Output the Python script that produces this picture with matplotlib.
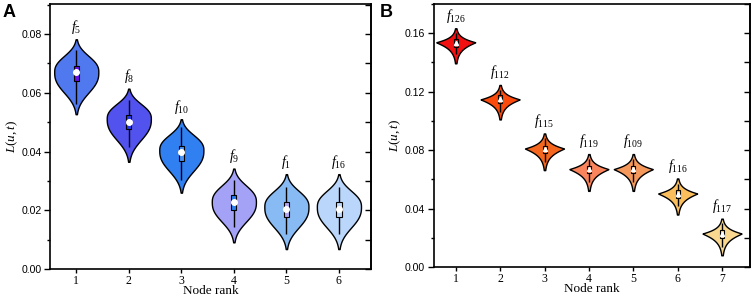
import matplotlib
matplotlib.use("Agg")
import matplotlib.pyplot as plt
import numpy as np
from matplotlib.ticker import MultipleLocator, FormatStrFormatter

plt.rcParams['mathtext.fontset'] = 'custom'
plt.rcParams['mathtext.rm'] = 'Liberation Serif'
plt.rcParams['mathtext.it'] = 'Liberation Serif:italic'

############ PANEL A DATA ############
a_rank = [1, 2, 3, 4, 5, 6]
a_names = ['5', '8', '10', '9', '1', '16']
a_top = [0.0782, 0.0614, 0.0510, 0.0342, 0.0323, 0.0323]
a_bottom = [0.0527, 0.0365, 0.0260, 0.0091, 0.0068, 0.0068]
a_mode = [0.0671, 0.0512, 0.0405, 0.0229, 0.0212, 0.0212]
a_q1 = [0.0640, 0.0475, 0.0368, 0.0200, 0.0178, 0.0178]
a_q3 = [0.0691, 0.0526, 0.0420, 0.0252, 0.0229, 0.0229]
a_med = [0.0671, 0.0499, 0.0397, 0.0229, 0.0203, 0.0203]
a_whislo = [0.0563, 0.0416, 0.0303, 0.0144, 0.0121, 0.0121]
a_whishi = [0.0745, 0.0577, 0.0484, 0.0303, 0.0280, 0.0280]
a_color = ['#5079F0', '#5252EE', '#3080F2', '#A4A2F6', '#88BBF4', '#BAD6FA']
a_boxcolor = ['#6A10E6', '#2838E6', '#4A90F2', '#2C7EEE', '#B2A8F4', '#C2DAFA']

############ PANEL B DATA ############
b_rank = [1, 2, 3, 4, 5, 6, 7]
b_names = ['126', '112', '115', '119', '109', '116', '117']
b_top = [0.1634, 0.1246, 0.0914, 0.0773, 0.0773, 0.0606, 0.0331]
b_bottom = [0.1394, 0.1010, 0.0663, 0.0521, 0.0521, 0.0359, 0.0080]
b_mode = [0.1538, 0.1147, 0.0811, 0.0670, 0.0670, 0.0503, 0.0229]
b_q1 = [0.1509, 0.1120, 0.0780, 0.0640, 0.0640, 0.0475, 0.0200]
b_q3 = [0.1560, 0.1177, 0.0830, 0.0692, 0.0692, 0.0525, 0.0250]
b_med = [0.1536, 0.1147, 0.0806, 0.0668, 0.0668, 0.0500, 0.0226]
b_whislo = [0.1460, 0.1060, 0.0720, 0.0580, 0.0580, 0.0420, 0.0140]
b_whishi = [0.1600, 0.1210, 0.0880, 0.0740, 0.0740, 0.0570, 0.0300]
b_color = ['#F21010', '#FA4A0C', '#F5661E', '#FA845C', '#F5985C', '#FABE5C', '#FAD890']


def violin(ax, x, top, bottom, mode, half, color, p, k):
    # half width profile around the widest point
    y = np.linspace(bottom, top, 300)
    d = np.where(y > mode, (y - mode) / (top - mode), (mode - y) / (mode - bottom))
    w = half * np.exp(-k * d ** p)
    ax.fill_betweenx(y, x - w, x + w, facecolor=color, edgecolor='black', lw=1.0, zorder=2)


def style(ax, ymax, ymaj, ymin, xmax, nx):
    ax.set_ylim(0, ymax)
    ax.set_xlim(0.5, xmax)
    ax.set_xticks(range(1, nx + 1))
    ax.yaxis.set_major_locator(MultipleLocator(ymaj))
    ax.yaxis.set_minor_locator(MultipleLocator(ymin))
    ax.yaxis.set_major_formatter(FormatStrFormatter('%.2f'))
    ax.tick_params(axis='y', which='major', direction='out', length=4, width=1, labelsize=7.6, pad=2)
    ax.tick_params(axis='y', which='minor', direction='out', length=2.5, width=1)
    ax.tick_params(axis='x', which='major', direction='out', length=3, width=1, pad=1)
    for lab in ax.get_yticklabels():
        lab.set_fontfamily('Liberation Sans')
    for lab in ax.get_xticklabels():
        lab.set_fontfamily('Liberation Serif')
        lab.set_fontsize(8.5)
    for s in ax.spines.values():
        s.set_linewidth(1.2)
    sec = ax.secondary_yaxis('right')
    sec.yaxis.set_major_locator(MultipleLocator(ymaj))
    sec.yaxis.set_minor_locator(MultipleLocator(ymin))
    sec.tick_params(which='major', direction='in', length=4, width=1, labelright=False)
    sec.tick_params(which='minor', direction='in', length=4, width=1)
    sec.spines['right'].set_linewidth(1.2)
    ax.set_xlabel('Node rank', fontfamily='Liberation Serif', fontsize=9.5, labelpad=-1)
    ax.set_ylabel(r'$L(u,t)$', fontsize=9.5, labelpad=1)


fig = plt.figure(figsize=(7.54, 2.97), dpi=100)
axA = fig.add_axes([0.0663, 0.094, 0.4257, 0.8925])
axB = fig.add_axes([0.575, 0.101, 0.4197, 0.8855])

for i in range(len(a_rank)):
    x = a_rank[i]
    violin(axA, x, a_top[i], a_bottom[i], a_mode[i], 0.42, a_color[i], 2.5, 3.5)
    axA.vlines(x, a_whislo[i], a_whishi[i], color='black', lw=1.0, zorder=3)
    axA.bar(x, a_q3[i] - a_q1[i], bottom=a_q1[i], width=0.1, color=a_boxcolor[i],
            edgecolor='black', lw=0.8, zorder=4)
    axA.plot(x, a_med[i], 'o', color='white', ms=4, mec='white', zorder=5)
    axA.text(x, a_top[i] + 0.0012, r'$f_{%s}$' % a_names[i], ha='center', va='bottom', fontsize=10)

for i in range(len(b_rank)):
    x = b_rank[i]
    violin(axB, x, b_top[i], b_bottom[i], b_mode[i], 0.44, b_color[i], 1.1, 3.3)
    axB.vlines(x, b_whislo[i], b_whishi[i], color='black', lw=1.0, zorder=3)
    axB.bar(x, b_q3[i] - b_q1[i], bottom=b_q1[i], width=0.09, color=b_color[i],
            edgecolor='black', lw=0.8, zorder=4)
    axB.plot(x, b_med[i], '^', color='white', ms=3, mec='white', zorder=5)
    axB.text(x, b_top[i] + 0.0025, r'$f_{%s}$' % b_names[i], ha='center', va='bottom', fontsize=10)

style(axA, 0.0902, 0.02, 0.01, 6.61, 6)
style(axB, 0.180, 0.04, 0.02, 7.63, 7)

fig.text(0.003, 0.985, 'A', fontsize=13, fontweight='bold', fontfamily='Liberation Sans', va='top')
fig.text(0.503, 0.985, 'B', fontsize=13, fontweight='bold', fontfamily='Liberation Sans', va='top')

fig.savefig('out.png', dpi=100)
